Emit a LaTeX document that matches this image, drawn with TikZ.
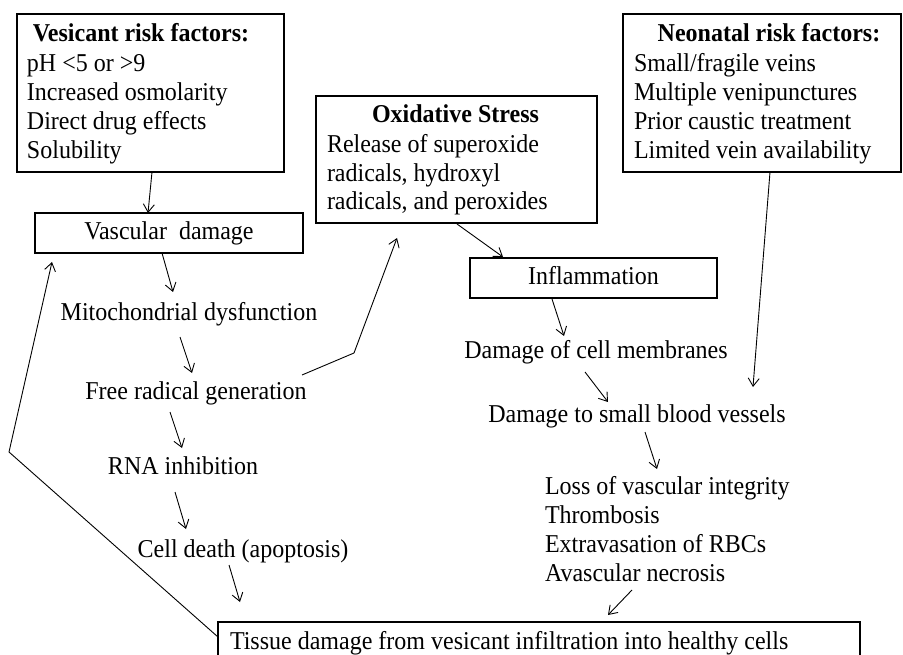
\documentclass[tikz,border=0pt]{standalone}
\usepackage{fontspec}
\setmainfont{Liberation Serif}
\usetikzlibrary{arrows.meta}
\begin{document}
\begin{tikzpicture}[x=1pt,y=-1pt,
  txt/.style={inner sep=0pt, outer sep=0pt, yscale=1.07, transform shape, font=\fontsize{24}{29}\selectfont},
  ttl/.style={inner sep=0pt, outer sep=0pt, yscale=1.07, transform shape, font=\fontsize{24}{29}\selectfont\bfseries},
  thinbox/.style={draw, line width=1.3pt, inner sep=0pt, outer sep=0pt},
  thickbox/.style={draw, line width=2.8pt, inner sep=0pt, outer sep=0pt},
  conn/.style={line width=0.9pt, -{Straight Barb[length=8pt,width=11pt]}},
  ]
\useasboundingbox (0,0) rectangle (903,655);
\fill[white] (0,0) rectangle (903,655);

% boxes
\node[thinbox, minimum width=267pt, minimum height=158pt] (vesic) at (150.5,93) {};
\node[thickbox, minimum width=268pt, minimum height=40pt] (vasc) at (169,233) {};
\node[thickbox, minimum width=281pt, minimum height=127pt] (oxid) at (456.5,159.5) {};
\node[thinbox, minimum width=278pt, minimum height=158pt] (neo) at (762,93) {};
\node[thickbox, minimum width=247pt, minimum height=40pt] (infl) at (593.5,278) {};
\node[thickbox, minimum width=642pt, minimum height=58pt] (tissue) at (539,651) {};

% box texts
\node[ttl, anchor=base] (vesicT) at (141,42) {Vesicant risk factors:};
\node[txt, anchor=base west] (v1) at (27,72) {pH <5 or >9};
\node[txt, anchor=base west] (v2) at (27,101) {Increased osmolarity};
\node[txt, anchor=base west] (v3) at (27,130) {Direct drug effects};
\node[txt, anchor=base west] (v4) at (27,159) {Solubility};

\node[ttl, anchor=base] (oxidT) at (455.5,123) {Oxidative Stress};
\node[txt, anchor=base west] (o1) at (327,153) {Release of superoxide};
\node[txt, anchor=base west] (o2) at (327,181.5) {radicals, hydroxyl};
\node[txt, anchor=base west] (o3) at (327,210) {radicals, and peroxides};

\node[ttl, anchor=base] (neoT) at (769,42) {Neonatal risk factors:};
\node[txt, anchor=base west] (n1) at (634,72) {Small/fragile veins};
\node[txt, anchor=base west] (n2) at (634,101) {Multiple venipunctures};
\node[txt, anchor=base west] (n3) at (634,130) {Prior caustic treatment};
\node[txt, anchor=base west] (n4) at (634,159) {Limited vein availability};

\node[txt, anchor=base] (vascT) at (169,240) {Vascular~ damage};
\node[txt, anchor=base] (inflT) at (593.5,285) {Inflammation};
\node[txt, anchor=base west] (tissueT) at (230,649) {Tissue damage from vesicant infiltration into healthy cells};

% free texts
\node[txt, anchor=base] (mito) at (189,320) {Mitochondrial dysfunction};
\node[txt, anchor=base] (free) at (196,399) {Free radical generation};
\node[txt, anchor=base] (rna) at (183,474) {RNA inhibition};
\node[txt, anchor=base] (cell) at (243,557) {Cell death (apoptosis)};
\node[txt, anchor=base] (dmgcell) at (596,359) {Damage of cell membranes};
\node[txt, anchor=base] (small) at (637,422) {Damage to small blood vessels};
\node[txt, anchor=base west] (l1) at (545,494) {Loss of vascular integrity};
\node[txt, anchor=base west] (l2) at (545,523) {Thrombosis};
\node[txt, anchor=base west] (l3) at (545,552) {Extravasation of RBCs};
\node[txt, anchor=base west] (l4) at (545,581) {Avascular necrosis};

% connectors
\draw[conn] ([shift={(1.5,0)}]vesic.south) -- ([shift={(-21,0)}]vasc.north);
\draw[conn] ([shift={(-7,0)}]vasc.south) -- ([shift={(-16,-28)}]mito.base);
\draw[conn] ([shift={(-9,17)}]mito.base) -- ([shift={(-4,-26)}]free.base);
\draw[conn] ([shift={(106,-24)}]free.base) -- ++(52,-22) -- ([shift={(-59.5,15)}]oxid.south);
\draw[conn] ([shift={(-26,13)}]free.base) -- ([shift={(-1,-26)}]rna.base);
\draw[conn] ([shift={(-8,18)}]rna.base) -- ([shift={(-57,-28)}]cell.base);
\draw[conn] ([shift={(-14,8)}]cell.base) -- ([shift={(22,-20)}]tissue.north west);
\draw[conn] ([shift={(0,15)}]tissue.north west) -- (9,452) -- ([shift={(17,9)}]vasc.south west);
\draw[conn] ([shift={(0.5,1)}]oxid.south) -- ([shift={(33,-1)}]infl.north west);
\draw[conn] ([shift={(-41.5,1)}]infl.south) -- ([shift={(-32,-23)}]dmgcell.base);
\draw[conn] ([shift={(-11,13)}]dmgcell.base) -- ([shift={(-29,-20)}]small.base);
\draw[conn] ([shift={(8,0)}]neo.south) -- ([shift={(116,-35)}]small.base);
\draw[conn] ([shift={(8,10)}]small.base) -- ([shift={(112,-25)}]l1.base west);
\draw[conn] ([shift={(87,9)}]l4.base west) -- ([shift={(390,-7)}]tissue.north west);
\end{tikzpicture}
\end{document}
